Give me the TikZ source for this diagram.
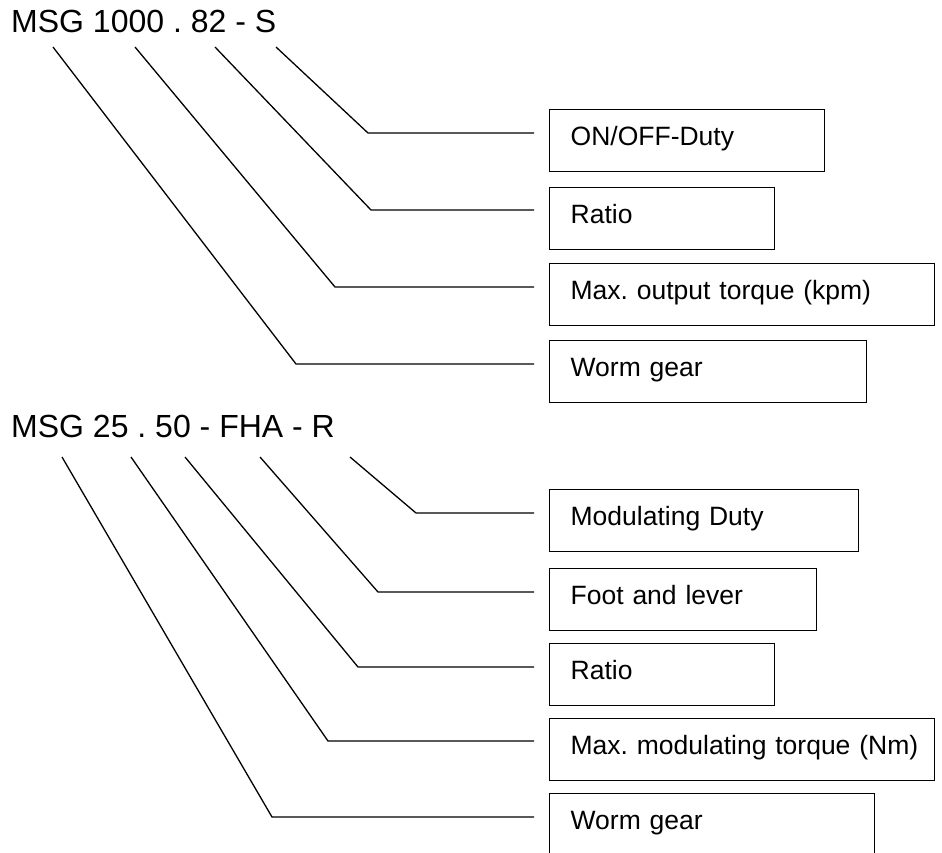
\documentclass[tikz,border=0pt]{standalone}
\usepackage{fontspec}
\setmainfont{Liberation Sans}
\frenchspacing
\usetikzlibrary{positioning}
\tikzset{
  typecode/.style={
    anchor=base west,
    inner sep=0pt,
    font=\fontsize{32}{38}\selectfont
  },
  keybox/.style={
    draw=black,
    line width=1.3pt,
    anchor=north west,
    align=left,
    text width=#1,
    inner xsep=0pt,
    minimum height=62pt,
    text height=20pt,
    text depth=9.5pt,
    execute at begin node={\hspace*{21pt}},
    font=\fontsize{26.5}{31}\selectfont
  },
  lead/.style={draw=black,line width=1.3pt,line join=miter,shorten >=15pt}
}

\begin{document}
\begin{tikzpicture}[x=1pt,y=-1pt]
  \useasboundingbox (0,0) rectangle (942,852);
  % first type code
  \node[typecode] (code) at (11,32) {MSG 1000 . 82 - S};
  \node[keybox=275pt] (duty) at (549,109) {ON/OFF-Duty};
  \node[keybox=225pt] (ratio) at (549,187) {Ratio};
  \node[keybox=385pt] (torque) at (549,263) {Max. output torque (kpm)};
  \node[keybox=317pt] (worm) at (549,340) {Worm gear};
  \coordinate (s1) at (53,47);
  \coordinate (s2) at (135,47);
  \coordinate (s3) at (215,47);
  \coordinate (s4) at (276,47);
  \coordinate (k1) at (296,364);
  \coordinate (k2) at (335,287);
  \coordinate (k3) at (371,210);
  \coordinate (k4) at (368,133);
  \draw[lead] (s1) -- (k1) -- (k1 -| worm.west);
  \draw[lead] (s2) -- (k2) -- (k2 -| torque.west);
  \draw[lead] (s3) -- (k3) -- (k3 -| ratio.west);
  \draw[lead] (s4) -- (k4) -- (k4 -| duty.west);
  % second type code
  \node[typecode] (mcode) at (11,437) {MSG 25 . 50 - FHA - R};
  \node[keybox=309pt] (mduty) at (549,489) {Modulating Duty};
  \node[keybox=267pt] (lever) at (549,568) {Foot and lever};
  \node[keybox=225pt] (mratio) at (549,643) {Ratio};
  \node[keybox=385pt] (mtorque) at (549,718) {Max. modulating torque (Nm)};
  \node[keybox=325pt] (mworm) at (549,793) {Worm gear};
  \coordinate (t1) at (62,457);
  \coordinate (t2) at (131,457);
  \coordinate (t3) at (185,457);
  \coordinate (t4) at (260,457);
  \coordinate (t5) at (350,457);
  \coordinate (m1) at (272,817);
  \coordinate (m2) at (328,741);
  \coordinate (m3) at (358,667);
  \coordinate (m4) at (378,592);
  \coordinate (m5) at (416,513);
  \draw[lead] (t1) -- (m1) -- (m1 -| mworm.west);
  \draw[lead] (t2) -- (m2) -- (m2 -| mtorque.west);
  \draw[lead] (t3) -- (m3) -- (m3 -| mratio.west);
  \draw[lead] (t4) -- (m4) -- (m4 -| lever.west);
  \draw[lead] (t5) -- (m5) -- (m5 -| mduty.west);
\end{tikzpicture}
\end{document}
